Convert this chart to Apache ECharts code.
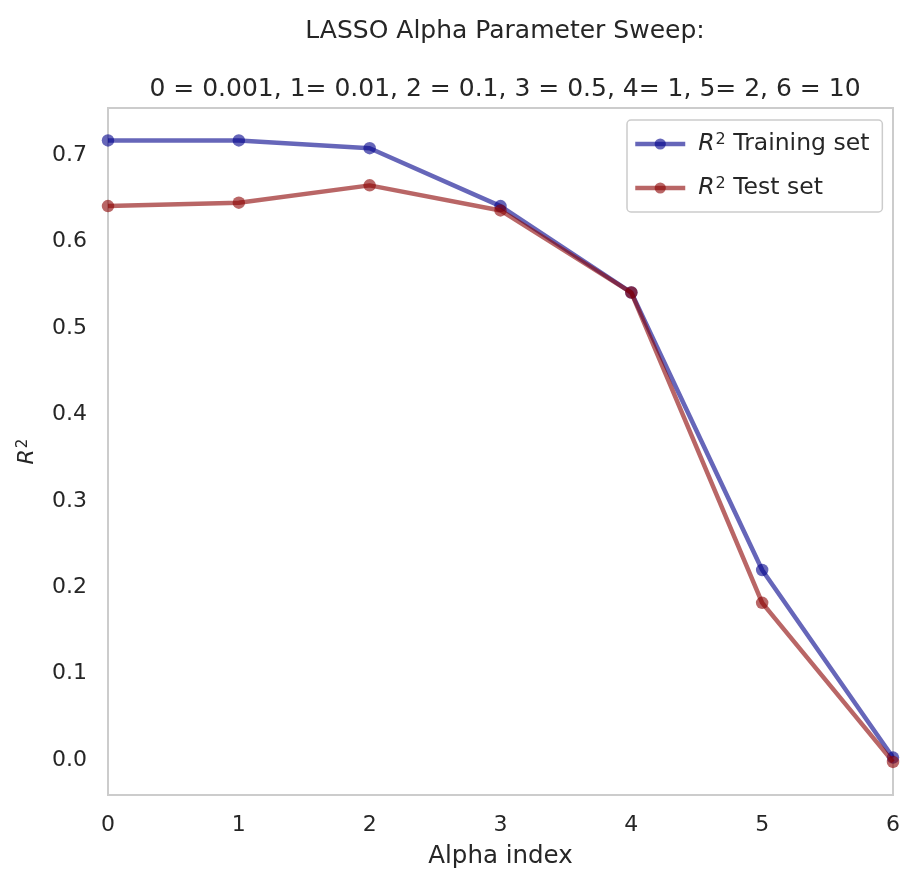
<!DOCTYPE html>
<html>
<head>
<meta charset="utf-8">
<script src="https://cdn.jsdelivr.net/npm/echarts@6/dist/echarts.min.js"></script>
<style>
  html, body { margin: 0; padding: 0; background: #ffffff; }
  #chart { width: 905px; height: 874px; }
</style>
</head>
<body>
<div id="chart"></div>
<script>
// Alpha index positions (0..6 map to alpha = 0.001 ... 10)
const alphaIndex = [0, 1, 2, 3, 4, 5, 6];
// R^2 scores for each alpha
const r2Train = [0.717, 0.717, 0.708, 0.641, 0.541, 0.220, 0.003];
const r2Test  = [0.641, 0.645, 0.665, 0.636, 0.541, 0.182, -0.002];
// Tick labels
const xTicks = [0, 1, 2, 3, 4, 5, 6];
const yTicks = [0.0, 0.1, 0.2, 0.3, 0.4, 0.5, 0.6, 0.7];

const titleLine1 = 'LASSO Alpha Parameter Sweep:';
const titleLine2 = '0 = 0.001, 1= 0.01, 2 = 0.1, 3 = 0.5, 4= 1, 5= 2, 6 = 10';

const FONT = 'DejaVu Sans';
const TXT = '#262626';

const pairs = (xs, ys) => xs.map((x, i) => [x, ys[i]]);

const axisRich = {
  i: { fontFamily: FONT, fontStyle: 'italic', fontSize: 22, color: TXT },
  s: { fontFamily: FONT, fontSize: 15, color: TXT, verticalAlign: 'top', padding: [0, 0, 0, 1] }
};

const legendRich = {
  i: { fontFamily: FONT, fontStyle: 'italic', fontSize: 23.5, color: TXT, padding: [0, 0, 0, 8] },
  s: { fontFamily: FONT, fontSize: 16, color: TXT, verticalAlign: 'top', padding: [0, 0, 0, 1] },
  t: { fontFamily: FONT, fontSize: 23.5, color: TXT }
};

const chart = echarts.init(document.getElementById('chart'), null, { renderer: 'canvas' });

chart.setOption({
  animation: false,
  backgroundColor: '#ffffff',
  title: [
    {
      text: titleLine1,
      left: 500, top: 14, textAlign: 'center',
      textStyle: { fontFamily: FONT, fontSize: 25, fontWeight: 'normal', color: TXT }
    },
    {
      text: titleLine2,
      left: 500, top: 72, textAlign: 'center',
      textStyle: { fontFamily: FONT, fontSize: 25, fontWeight: 'normal', color: TXT }
    }
  ],
  grid: {
    left: 108, right: 12, top: 108, bottom: 76,
    show: true, borderColor: '#cccccc', borderWidth: 2, backgroundColor: '#ffffff'
  },
  legend: {
    orient: 'vertical',
    left: 627, top: 120,
    padding: [12, 13, 12, 6],
    itemGap: 20,
    itemWidth: 50, itemHeight: 14,
    backgroundColor: 'rgba(255,255,255,0.8)',
    borderColor: '#cccccc', borderWidth: 1.5, borderRadius: 4,
    lineStyle: { width: 4.5 },
    formatter: name => '{i|R}{s|2}{t| ' + name + '}',
    textStyle: { rich: legendRich },
    data: ['Training set', 'Test set']
  },
  xAxis: {
    type: 'value',
    min: 0, max: 6, interval: 1,
    name: 'Alpha index',
    nameLocation: 'middle', nameGap: 49,
    nameTextStyle: { fontFamily: FONT, fontSize: 24.5, color: TXT },
    axisLine: { show: false },
    axisTick: { show: false },
    splitLine: { show: false },
    axisLabel: {
      customValues: xTicks,
      margin: 19,
      fontFamily: FONT, fontSize: 22, color: TXT,
      formatter: v => String(v)
    }
  },
  yAxis: {
    type: 'value',
    min: -0.0403, max: 0.7545,
    name: '{i|R}{s|2}',
    nameLocation: 'middle', nameGap: 70, nameRotate: 90,
    nameTextStyle: { rich: axisRich },
    axisLine: { show: false },
    axisTick: { show: false },
    splitLine: { show: false },
    axisLabel: {
      customValues: yTicks,
      margin: 21,
      fontFamily: FONT, fontSize: 22, color: TXT,
      formatter: v => v.toFixed(1)
    }
  },
  series: [
    {
      name: 'Training set',
      type: 'line',
      data: pairs(alphaIndex, r2Train),
      symbol: 'circle', symbolSize: 12.5,
      lineStyle: { color: 'rgba(0,0,139,0.6)', width: 4.5 },
      itemStyle: { color: 'rgba(0,0,139,0.6)' },
      clip: false, z: 2
    },
    {
      name: 'Test set',
      type: 'line',
      data: pairs(alphaIndex, r2Test),
      symbol: 'circle', symbolSize: 12.5,
      lineStyle: { color: 'rgba(139,0,0,0.6)', width: 4.5 },
      itemStyle: { color: 'rgba(139,0,0,0.6)' },
      clip: false, z: 3
    }
  ]
});
</script>
</body>
</html>
